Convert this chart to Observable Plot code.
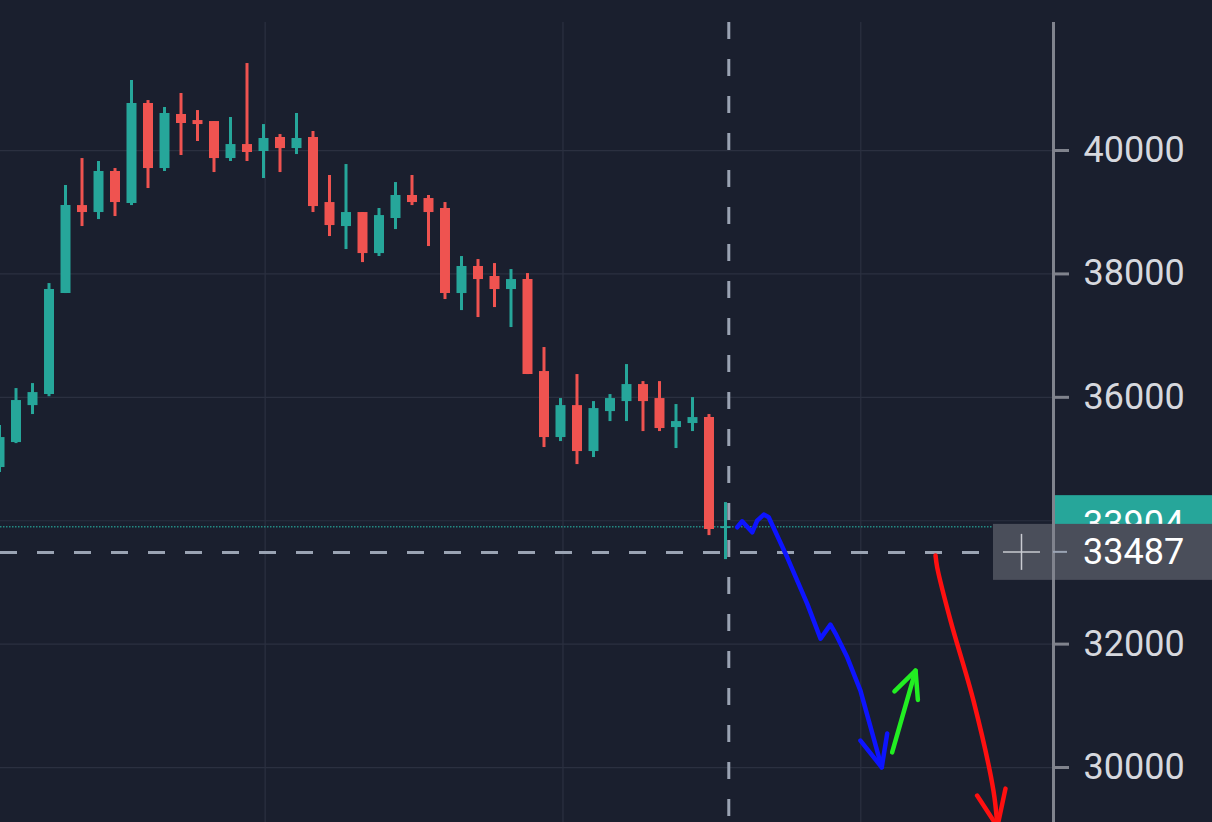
<!DOCTYPE html>
<html>
<head>
<meta charset="utf-8">
<script src="https://cdn.jsdelivr.net/npm/d3@7"></script>
<script src="https://cdn.jsdelivr.net/npm/@observablehq/plot@0.6"></script>
<style>
  html, body { margin: 0; padding: 0; background: #1a1f2e; overflow: hidden; }
  #chart svg { display: block; }
  #chart g[aria-label="y-axis"] line,
  #chart g[aria-label="y-axis tick"] path,
  #chart g[aria-label="y-axis tick"] line { stroke: #80838d; stroke-width: 3px; }
</style>
</head>
<body>
<div id="chart"></div>
<script>
// ---- Candle data (index = bar number, prices in USD) ----
const opens  = [34862,35267,35866,36045,37682,39108,38995,39660,39141,40762,39708,40584,40486,40470,39870,40097,39984,40211,40032,40211,39157,38768,38995,38330,38898,39271,39222,39060,37682,38120,37958,37747,37909,36418,35348,35866,35121,35769,35931,36207,35980,35510,35575,35672,33873];
const highs  = [35542,36142,36223,37844,39433,39870,39822,39708,41135,40810,40697,40924,40648,40470,40535,41410,40421,40259,40600,40308,39595,39773,38995,39060,39481,39595,39271,39157,38282,38233,38168,38071,38006,36807,35980,36369,35931,36045,36531,36255,36255,35883,35996,35721,34294];
const lows   = [34781,35250,35721,36010,37682,38768,38881,38930,39108,39384,39660,39919,40146,39643,39822,39822,39546,39643,39935,38995,38606,38395,38184,38282,38719,39108,38444,37585,37406,37293,37455,37131,36369,35186,35283,34910,35024,35607,35607,35445,35445,35170,35445,33759,33370];
const closes = [35348,35948,36077,37747,39108,38995,39660,39157,40762,39708,40600,40438,40421,39870,40097,39968,40195,40032,40195,39092,38784,38995,38330,38946,39271,39157,38995,37682,38120,37909,37747,37909,36369,35348,35866,35121,35818,35980,36207,35931,35494,35607,35672,33856,33904];

// ---- Axis / reference values ----
const yTicks = [30000, 32000, 36000, 38000, 40000];
const gridPrices = [30000, 32000, 34000, 36000, 38000, 40000];
const timeGrid = [16.1, 34.15, 52.2];
const lastPrice = 33904;
const crossPrice = 33487;
const crossIndex = 44.2;
const xDomain = [0.06, 63.88];
const yDomain = [29109, 42075];

// ---- Hand-drawn annotations (bar index, price) ----
const bluePath = [
  {i:44.71,p:33894},{i:45.01,p:33991},{i:45.62,p:33813},{i:45.92,p:34002},{i:46.32,p:34100},{i:46.62,p:34056},
  {i:47.74,p:33407},{i:48.95,p:32657},{i:49.76,p:32090},{i:50.36,p:32316},{i:50.67,p:32171},{i:51.38,p:31786},
  {i:52.18,p:31247},{i:53.47,p:30003}
];
const blueHead = [{i:52.18,p:30436},{i:53.47,p:30003},{i:53.80,p:30550}];
const greenPath = [{i:54.10,p:30246},{i:55.52,p:31571}];
const greenHead = [{i:54.24,p:31235},{i:55.52,p:31571},{i:55.66,p:31096}];
const redPath = [{i:56.73,p:33435},{i:56.83,p:33245},{i:57.64,p:32381},{i:59.03,p:31084},{i:60.24,p:29626},{i:60.48,p:29042}];
const redHead = [{i:59.25,p:29545},{i:60.48,p:29042},{i:60.97,p:29658}];

const UP = "#26a69a", DOWN = "#ef5350";
const candles = opens.map((o, i) => ({i, open: o, high: highs[i], low: lows[i], close: closes[i]}));
const col = d => d.close >= d.open ? UP : DOWN;

const hand = (data, stroke, curve = "linear") => Plot.line(data, {x: "i", y: "p", stroke, curve, strokeWidth: 4.5, strokeLinejoin: "round", strokeLinecap: "round"});

const chart = Plot.plot({
  width: 1212,
  height: 822,
  marginLeft: 0,
  marginRight: 159,
  marginTop: 22,
  marginBottom: 0,
  style: {background: "#1a1f2e", color: "#d6d8de", fontFamily: "Roboto, sans-serif", fontSize: "36px"},
  x: {domain: xDomain, axis: null},
  y: {domain: yDomain, axis: "right", ticks: yTicks, tickSize: 15, tickPadding: 15, tickFormat: d3.format("d"), label: null},
  marks: [
    Plot.ruleY(gridPrices, {stroke: "#2b3040", strokeWidth: 1.2}),
    Plot.ruleX(timeGrid, {stroke: "#2b3040", strokeWidth: 1.2}),
    Plot.ruleY([lastPrice], {stroke: UP, strokeWidth: 1.5, strokeDasharray: "1.5,1.5", strokeOpacity: 0.8}),
    Plot.ruleX(candles, {x: "i", y1: "low", y2: "high", stroke: col, strokeWidth: 3}),
    Plot.ruleX(candles, {x: "i", y1: "open", y2: "close", stroke: col, strokeWidth: 10}),
    Plot.ruleX([crossIndex], {stroke: "#9aa3b3", strokeWidth: 3, strokeDasharray: "17,20"}),
    Plot.ruleY([crossPrice], {stroke: "#9aa3b3", strokeWidth: 3, strokeDasharray: "17,20"}),
    hand(bluePath, "#0d14ff"), hand(blueHead, "#0d14ff"),
    hand(greenPath, "#22ee22"), hand(greenHead, "#22ee22"),
    hand(redPath, "#ff1010", "catmull-rom"), hand(redHead, "#ff1010")
  ]
});

document.getElementById("chart").appendChild(chart);

// ---- Price tags on the right scale ----
const ys = chart.scale("y");
const svg = d3.select(chart);
const axisX = 1212 - 159;
const yl = ys.apply(lastPrice), yc = ys.apply(crossPrice);

const defs = svg.append("defs");
defs.append("clipPath").attr("id", "tealClip")
  .append("rect").attr("x", axisX).attr("y", yl - 31).attr("width", 1212 - axisX).attr("height", (yc - 28) - (yl - 31));

const g = svg.append("g").attr("text-anchor", "start");
g.append("rect").attr("x", axisX + 1).attr("y", yl - 31).attr("width", 1212 - axisX).attr("height", 56).attr("fill", UP);
g.append("text").attr("clip-path", "url(#tealClip)").attr("x", axisX + 30).attr("y", yl - 3).attr("dy", "0.35em").attr("fill", "#ffffff")
  .attr("text-anchor", "start").attr("font-family", "Roboto, sans-serif").attr("font-size", 36).text(String(lastPrice));

g.append("rect").attr("x", 993).attr("y", yc - 28).attr("width", 1212 - 993).attr("height", 56).attr("fill", "#4a4e5a");
g.append("line").attr("x1", axisX + 0.5).attr("x2", axisX + 0.5).attr("y1", 22).attr("y2", 822)
  .attr("stroke", "#80838d").attr("stroke-width", 3);
g.append("line").attr("x1", 1003).attr("x2", 1040).attr("y1", yc).attr("y2", yc).attr("stroke", "#c9cbd1").attr("stroke-width", 1.5);
g.append("line").attr("x1", 1021.5).attr("x2", 1021.5).attr("y1", yc - 18).attr("y2", yc + 18).attr("stroke", "#c9cbd1").attr("stroke-width", 1.5);
g.append("line").attr("x1", axisX).attr("x2", axisX + 14).attr("y1", yc).attr("y2", yc).attr("stroke", "#9aa3b3").attr("stroke-width", 2);
g.append("text").attr("x", axisX + 30).attr("y", yc).attr("dy", "0.35em").attr("fill", "#ffffff")
  .attr("text-anchor", "start").attr("font-family", "Roboto, sans-serif").attr("font-size", 36).text(String(crossPrice));
</script>
</body>
</html>
